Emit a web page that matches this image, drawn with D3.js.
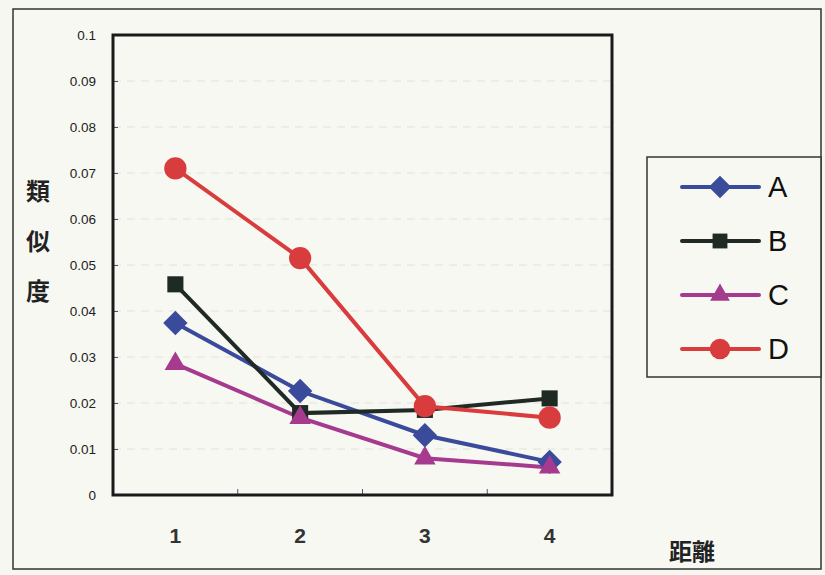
<!DOCTYPE html>
<html>
<head>
<meta charset="utf-8">
<script src="https://cdn.jsdelivr.net/npm/d3@7"></script>
<style>
  body { margin: 0; background: #f7f7f2; }
  svg { display: block; }
</style>
</head>
<body>
<svg id="drawing_region"></svg>
<script>
// data
const categories = ['1', '2', '3', '4'];
const seriesNames = ['A', 'B', 'C', 'D'];
const valuesA = [0.0374, 0.0226, 0.0130, 0.0072];
const valuesB = [0.0458, 0.0178, 0.0185, 0.0210];
const valuesC = [0.0285, 0.0168, 0.0080, 0.0060];
const valuesD = [0.0710, 0.0515, 0.0193, 0.0168];
const yTicks = [0, 0.01, 0.02, 0.03, 0.04, 0.05, 0.06, 0.07, 0.08, 0.09, 0.1];
const yTickLabels = ['0', '0.01', '0.02', '0.03', '0.04', '0.05', '0.06', '0.07', '0.08', '0.09', '0.1'];

const colors = { A: '#3b4b9c', B: '#1f2a24', C: '#a53a8e', D: '#d93c3c' };
const shapes = { A: d3.symbolDiamond2, B: d3.symbolSquare2, C: d3.symbolTriangle2, D: d3.symbolCircle };
const sizes = { A: 380, B: 330, C: 330, D: 390 };

const series = [
  { name: 'A', values: valuesA },
  { name: 'B', values: valuesB },
  { name: 'C', values: valuesC },
  { name: 'D', values: valuesD },
];

const width = 825, height = 575;
const plot = { left: 113, top: 35, right: 612, bottom: 495 };

const svg = d3.select('#drawing_region')
  .attr('width', width)
  .attr('height', height);

// outer frame
svg.append('rect')
  .attr('x', 13).attr('y', 9)
  .attr('width', 808).attr('height', 560)
  .attr('fill', '#f8f8f3')
  .attr('stroke', '#333')
  .attr('stroke-width', 1.5);

const x = d3.scaleBand()
  .domain(categories)
  .range([plot.left, plot.right]);

const y = d3.scaleLinear()
  .domain([0, 0.1])
  .range([plot.bottom, plot.top]);

// faint grid lines
svg.append('g')
  .selectAll('line')
  .data(yTicks.slice(1, -1))
  .join('line')
  .attr('x1', plot.left).attr('x2', plot.right)
  .attr('y1', d => y(d)).attr('y2', d => y(d))
  .attr('stroke', '#e2e2da')
  .attr('stroke-width', 1)
  .attr('stroke-dasharray', '8,6');

// y axis with ticks inside
const yAxis = d3.axisLeft(y)
  .tickValues(yTicks)
  .tickSize(-5)
  .tickPadding(17)
  .tickFormat((d, i) => yTickLabels[i]);
const gy = svg.append('g')
  .attr('transform', `translate(${plot.left},0)`)
  .call(yAxis);
gy.select('.domain').remove();
gy.selectAll('line').attr('stroke', '#555');
gy.selectAll('text')
  .style('font-family', 'Arial, "Liberation Sans", sans-serif')
  .style('font-size', '13.5px')
  .attr('fill', '#222');

// x axis: ticks at band boundaries, labels at band centres
const xAxis = d3.axisBottom(x)
  .tickSize(0)
  .tickPadding(33);
const gx = svg.append('g')
  .attr('transform', `translate(0,${plot.bottom})`)
  .call(xAxis);
gx.select('.domain').remove();
gx.selectAll('text')
  .style('font-family', 'Arial, "Liberation Sans", sans-serif')
  .style('font-size', '21px')
  .style('font-weight', 'bold')
  .attr('fill', '#333');

svg.append('g')
  .selectAll('line')
  .data(categories.slice(1))
  .join('line')
  .attr('x1', d => x(d)).attr('x2', d => x(d))
  .attr('y1', plot.bottom).attr('y2', plot.bottom - 6)
  .attr('stroke', '#555');

// plot frame
svg.append('rect')
  .attr('x', plot.left).attr('y', plot.top)
  .attr('width', plot.right - plot.left)
  .attr('height', plot.bottom - plot.top)
  .attr('fill', 'none')
  .attr('stroke', '#1a1a1a')
  .attr('stroke-width', 3);

// lines and markers
const line = d3.line()
  .x((d, i) => x(categories[i]) + x.bandwidth() / 2)
  .y(d => y(d));

const g = svg.append('g');
series.forEach(s => {
  g.append('path')
    .datum(s.values)
    .attr('d', line)
    .attr('fill', 'none')
    .attr('stroke', colors[s.name])
    .attr('stroke-width', 4);
});
series.forEach(s => {
  g.selectAll(null)
    .data(s.values)
    .join('path')
    .attr('transform', (d, i) => `translate(${x(categories[i]) + x.bandwidth() / 2},${y(d)})`)
    .attr('d', d3.symbol().type(shapes[s.name]).size(sizes[s.name]))
    .attr('fill', colors[s.name]);
});

// axis titles
const yTitle = ['類', '似', '度'];
svg.append('g')
  .selectAll('text')
  .data(yTitle)
  .join('text')
  .attr('x', 38)
  .attr('y', (d, i) => 200 + i * 50)
  .attr('text-anchor', 'middle')
  .style('font-family', '"Noto Sans CJK JP", sans-serif')
  .style('font-size', '24px')
  .style('font-weight', 'bold')
  .attr('fill', '#222')
  .text(d => d);

svg.append('text')
  .attr('x', 692)
  .attr('y', 560)
  .attr('text-anchor', 'middle')
  .style('font-family', '"Noto Sans CJK JP", sans-serif')
  .style('font-size', '23px')
  .style('font-weight', 'bold')
  .attr('fill', '#222')
  .text('距離');

// legend
const legend = svg.append('g');
legend.append('rect')
  .attr('x', 647).attr('y', 157)
  .attr('width', 174).attr('height', 220)
  .attr('fill', '#f8f8f3')
  .attr('stroke', '#333')
  .attr('stroke-width', 1.5);

const legendY = d3.scalePoint()
  .domain(seriesNames)
  .range([187, 349]);

const items = legend.selectAll('g.item')
  .data(seriesNames)
  .join('g')
  .attr('class', 'item')
  .attr('transform', d => `translate(0,${legendY(d)})`);
items.append('line')
  .attr('x1', 682).attr('x2', 759)
  .attr('stroke', d => colors[d])
  .attr('stroke-width', 4)
  .attr('stroke-linecap', 'round');
items.append('path')
  .attr('transform', 'translate(720,0)')
  .attr('d', d => d3.symbol().type(shapes[d]).size(sizes[d] * 0.85)())
  .attr('fill', d => colors[d]);
items.append('text')
  .attr('x', 768)
  .attr('dy', '0.36em')
  .style('font-family', 'Arial, "Liberation Sans", sans-serif')
  .style('font-size', '29px')
  .attr('fill', '#111')
  .text(d => d);
</script>
</body>
</html>
